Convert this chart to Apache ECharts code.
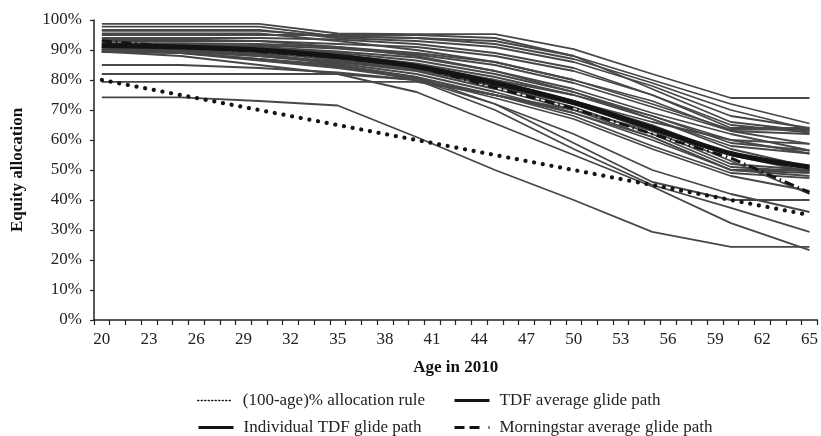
<!DOCTYPE html>
<html>
<head>
<meta charset="utf-8">
<script src="https://cdn.jsdelivr.net/npm/echarts@6/dist/echarts.min.js"></script>
<style>
html,body{margin:0;padding:0;background:#fff;}
#chart{width:821px;height:436px;}
</style>
</head>
<body>
<div id="chart"></div>
<script>
// Category axis: age in 2010
const ages = [20,21,22,23,24,25,26,27,28,29,30,31,32,33,34,35,36,37,38,39,40,41,42,43,44,45,46,47,48,49,50,51,52,53,54,55,56,57,58,59,60,61,62,63,64,65];
// Ages at which glide-path values were read
const pathAges = [20,25,30,35,40,45,50,55,60,65];

// (100-age)% allocation rule
const ruleValues = [80,75,70,65,60,55,50,45,40,35];
// TDF average glide path
const tdfAvgValues = [91.5,91,90,87.8,84.5,79,72.5,64,55.5,51];
// Morningstar average glide path
const morningstarValues = [93,91,89.5,87.5,84.5,77.5,70.5,62,54,42.5];

// Individual TDF glide paths
const path01 = [98.7,98.7,98.7,95.5,95.3,95.3,90.3,82,74,74];
const path02 = [97.8,97.8,97.8,94.5,94,93,88,80,72,65.5];
const path03 = [96.7,96.7,96.7,94,93,91,86,78,68,64];
const path04 = [96.4,96.4,96.4,94.5,94,92,87,79,70,63.5];
const path05 = [95,95,95,95,95,94,88,77,66,63];
const path06 = [94,94,94,93.5,92,89,84,75,64,64];
const path07 = [93,93,93,92,91,88,83,75,65,62.5];
const path08 = [92.3,92.3,92,91,89,86,80,72,63.5,63.5];
const path09 = [91.8,91.8,91.5,90.5,88.5,85,79,71,63,58.7];
const path10 = [91.5,91.5,91,89.5,87.5,83,77,69,62,56.5];
const path11 = [91.3,91.3,91,89,86.5,82,76,68,60,55.5];
const path12 = [91,91,90.5,88.5,85.5,81,75,67,57,51];
const path13 = [90.8,90.8,90,88,85,80,73,65,55,50.5];
const path14 = [90.5,90.5,89.5,87.5,84.5,79,72,63,52,50];
const path15 = [90,90,89,87,84,78,71,62,51,49.5];
const path16 = [89.8,89.8,88.5,86,83,77,70,61,50,49];
const path17 = [89.5,89.5,88,85.5,82,76,69,60,50,48];
const path18 = [89.5,89.2,87,84.5,81,75,68,58,49,47.3];
const path19 = [89.3,89,86.5,84,80.5,74,67,57,48,43];
const path20 = [91,91,89.5,86.5,83.5,78,72,64,53,42];
const path21 = [90,89,87,85,81,72,59,46,40,40];
const path22 = [85,85,84,82.5,80,72,62,50,42,36];
const path23 = [82,82,82,82,80,70,57,45,37.4,29.4];
const path24 = [79.4,79.4,79.4,79.4,79.4,75,70,63,55,49.4];
const path25 = [74.2,74.2,73,71.5,61,50,40,29.4,24.4,24.4];
const path26 = [89.5,88,85,82,76,65.5,55,44.5,32.3,23.3];
const path27 = [92,92,91,88,84,79,73,66,60,58.7];
const path28 = [93.5,93.5,93,91,88,83,76,67,58,55.5];
const path29 = [95.5,95.5,95.5,93,90,86,80,73,63,62];
const path30 = [89.5,89.5,88,86,84,80,75,68,59,56.5];
const path31 = [90.5,90.5,89,85,80,75,69,61,50,50];

const individualPaths = [path01,path02,path03,path04,path05,path06,path07,path08,path09,path10,
  path11,path12,path13,path14,path15,path16,path17,path18,path19,path20,
  path21,path22,path23,path24,path25,path26,path27,path28,path29,path30,path31];

const FONT = 'Liberation Serif';
const toData = vals => vals.map((v, i) => [ages.indexOf(pathAges[i]), v]);

const series = [];
individualPaths.forEach(p => {
  series.push({
    name: 'Individual TDF glide path', type: 'line', data: toData(p),
    symbol: 'none', silent: true, z: 2,
    lineStyle: { color: '#474747', width: 1.8 }, itemStyle: { color: '#474747' }
  });
});
series.push({
  name: 'TDF average glide path', type: 'line', data: toData(tdfAvgValues),
  symbol: 'none', smooth: 0.3, z: 4,
  lineStyle: { color: '#141414', width: 5 }, itemStyle: { color: '#141414' }
});
series.push({
  name: 'Morningstar average glide path', type: 'line', data: toData(morningstarValues),
  symbol: 'none', z: 5,
  lineStyle: { color: '#141414', width: 3, type: [10, 4, 1.5, 4] }, itemStyle: { color: '#141414' }
});
series.push({
  name: '(100-age)% allocation rule', type: 'line', data: toData(ruleValues),
  symbol: 'none', z: 6,
  lineStyle: { color: '#141414', width: 4.2, type: [0.1, 8.7], cap: 'round' }, itemStyle: { color: '#141414' }
});

function legendAt(name, left, top, ls) {
  return {
    left: left, top: top, padding: 0, itemWidth: 35, itemHeight: 12, itemGap: 10,
    textStyle: { fontFamily: FONT, fontSize: 17, color: '#222', padding: [0, 0, 0, 5] },
    selectedMode: false,
    data: [{ name: name, lineStyle: ls, itemStyle: { opacity: 0 } }]
  };
}

const option = {
  animation: false,
  backgroundColor: '#fff',
  grid: { left: 94, right: 3, top: 20, bottom: 116 },
  legend: [
    legendAt('(100-age)% allocation rule', 197, 392, { color: '#141414', width: 1.5, type: [1, 2.5] }),
    legendAt('Individual TDF glide path', 197, 419, { color: '#141414', width: 3, type: 'solid' }),
    legendAt('TDF average glide path', 453, 392, { color: '#141414', width: 3, type: 'solid' }),
    legendAt('Morningstar average glide path', 453, 419, { color: '#141414', width: 3, type: [10, 5, 10, 9, 3, 20] })
  ],
  xAxis: {
    type: 'category', data: ages.map(String), boundaryGap: true,
    name: 'Age in 2010', nameLocation: 'middle', nameGap: 39,
    nameTextStyle: { fontFamily: FONT, fontSize: 17, fontWeight: 'bold', color: '#111' },
    axisLine: { lineStyle: { color: '#222', width: 1.5 } },
    axisTick: { show: true, interval: 0, length: 5, lineStyle: { color: '#222', width: 1.2 } },
    axisLabel: { interval: 2, margin: 11, fontFamily: FONT, fontSize: 17, color: '#222' },
    splitLine: { show: false }
  },
  yAxis: {
    type: 'value', min: 0, max: 100, interval: 10,
    name: 'Equity allocation', nameLocation: 'middle', nameGap: 68, nameRotate: 90,
    nameTextStyle: { fontFamily: FONT, fontSize: 17, fontWeight: 'bold', color: '#111' },
    axisLine: { show: true, lineStyle: { color: '#222', width: 1.5 } },
    axisTick: { show: true, length: 4, lineStyle: { color: '#222', width: 1.2 } },
    axisLabel: { formatter: '{value}%', margin: 12, fontFamily: FONT, fontSize: 17, color: '#222' },
    splitLine: { show: false }
  },
  series: series
};

const chart = echarts.init(document.getElementById('chart'), null, { renderer: 'canvas' });
chart.setOption(option);
</script>
</body>
</html>
